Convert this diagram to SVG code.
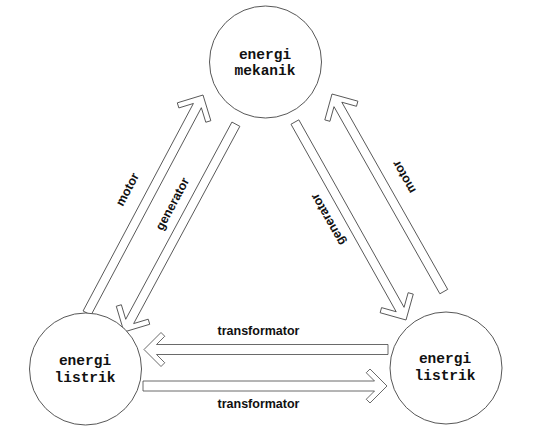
<svg xmlns="http://www.w3.org/2000/svg" width="550" height="447" viewBox="0 0 550 447">
<style>
.node{fill:#fff;stroke:#444;stroke-width:0.9}
.arr{fill:#fff;stroke:#444;stroke-width:0.8;stroke-linejoin:miter}
.nt{font-family:"Liberation Mono","Courier New",monospace;font-weight:bold;font-size:14.5px;fill:#111;text-anchor:middle}
.lb{font-family:"Liberation Sans",Arial,sans-serif;font-weight:bold;font-size:12.5px;fill:#111;text-anchor:middle;dominant-baseline:central}
</style>
<rect width="550" height="447" fill="#fff"/>
<g id="connectors">
<path class="arr" transform="translate(144,349.5) rotate(180)" d="M-244,-5 L-12.5,-5 L-20.75,-13.25 L-17,-17 L0,0 L-17,17 L-20.75,13.25 L-12.5,5 L-244,5 Z"/>
<path class="arr" transform="translate(387,386)" d="M-244,-5 L-12.5,-5 L-20.75,-13.25 L-17,-17 L0,0 L-17,17 L-20.75,13.25 L-12.5,5 L-244,5 Z"/>
<path class="arr" transform="translate(203,95) rotate(-62)" d="M-247,-4.5 L-12,-4.5 L-22.75,-15.25 L-19,-19 L0,0 L-19,19 L-22.75,15.25 L-12,4.5 L-247,4.5 Z"/>
<path class="arr" transform="translate(124,332) rotate(118.3)" d="M-236,-4.5 L-12,-4.5 L-22.75,-15.25 L-19,-19 L0,0 L-19,19 L-22.75,15.25 L-12,4.5 L-236,4.5 Z"/>
<path class="arr" transform="translate(406,320) rotate(60.7)" d="M-227,-4.5 L-12,-4.5 L-22.75,-15.25 L-19,-19 L0,0 L-19,19 L-22.75,15.25 L-12,4.5 L-227,4.5 Z"/>
<path class="arr" transform="translate(332,94) rotate(-119.5)" d="M-227,-4.5 L-12,-4.5 L-22.75,-15.25 L-19,-19 L0,0 L-19,19 L-22.75,15.25 L-12,4.5 L-227,4.5 Z"/>
<text class="lb" x="258.5" y="331">transformator</text>
<text class="lb" x="258.5" y="404">transformator</text>
<text class="lb" transform="translate(127.5,189.5) rotate(-62)">motor</text>
<text class="lb" transform="translate(172.5,204) rotate(-62)">generator</text>
<text class="lb" transform="translate(328,219.5) rotate(-119.5)">generator</text>
<text class="lb" transform="translate(404,177) rotate(-119.5)">motor</text>
</g>
<g id="node-mekanik">
<circle class="node" cx="265.5" cy="62" r="56"/>
<text class="nt" x="265" y="59">energi</text>
<text class="nt" x="265" y="75">mekanik</text>
</g>
<g id="node-listrik-left">
<circle class="node" cx="85.5" cy="369" r="56"/>
<text class="nt" x="85" y="365">energi</text>
<text class="nt" x="85" y="382">listrik</text>
</g>
<g id="node-listrik-right">
<circle class="node" cx="446" cy="368" r="56"/>
<text class="nt" x="445" y="363">energi</text>
<text class="nt" x="445" y="380">listrik</text>
</g>
</svg>
